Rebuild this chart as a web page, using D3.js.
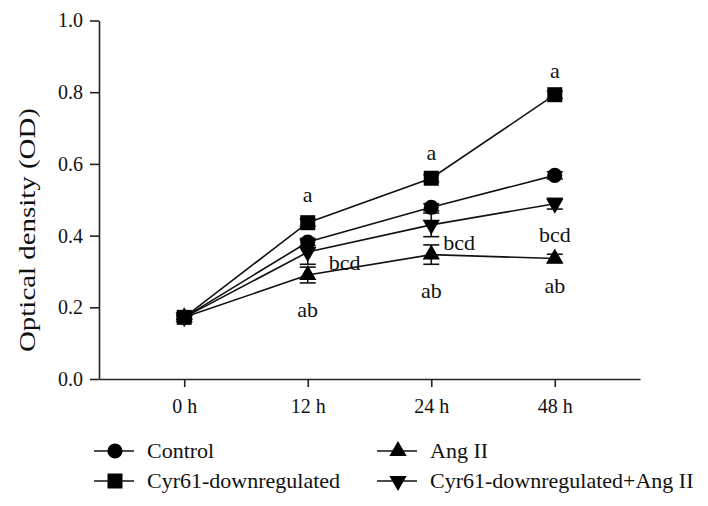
<!DOCTYPE html>
<html>
<head>
<meta charset="utf-8">
<script src="https://cdn.jsdelivr.net/npm/d3@7"></script>
<style>
  body { margin: 0; background: #fff; }
  svg text { font-family: "Liberation Serif", "DejaVu Serif", serif !important; fill: #111; }
</style>
</head>
<body>
<svg id="chart"></svg>
<script>
var width = 708,
    height = 506,
    serif = '"Liberation Serif", "DejaVu Serif", serif';

// data
var times = ['0 h', '12 h', '24 h', '48 h'];
var control = [0.172, 0.382, 0.479, 0.568];
var cyrDown = [0.172, 0.436, 0.560, 0.793];
var angII = [0.172, 0.290, 0.347, 0.336];
var cyrDownAng = [0.172, 0.354, 0.430, 0.489];

var controlSE = [0.005, 0.010, 0.010, 0.010];
var cyrDownSE = [0.005, 0.010, 0.010, 0.010];
var angIISE = [0.005, 0.022, 0.027, 0.012];
var cyrDownAngSE = [0.005, 0.034, 0.033, 0.015];

var yTicks = [0, 0.2, 0.4, 0.6, 0.8, 1.0];

// significance letters: time, text, OD level of baseline
var noteTime = ['12 h', '24 h', '48 h', '12 h', '24 h', '48 h', '12 h', '24 h', '48 h'];
var noteText = ['a', 'a', 'a', 'bcd', 'bcd', 'bcd', 'ab', 'ab', 'ab'];
var noteOD = [0.494, 0.611, 0.84, 0.304, 0.36, 0.382, 0.173, 0.226, 0.24];

var series = [
    { name: 'Control', values: control, se: controlSE, shape: 'circle' },
    { name: 'Cyr61-downregulated', values: cyrDown, se: cyrDownSE, shape: 'square' },
    { name: 'Ang II', values: angII, se: angIISE, shape: 'up' },
    { name: 'Cyr61-downregulated+Ang II', values: cyrDownAng, se: cyrDownAngSE, shape: 'down' }
];

var svg = d3.select('svg#chart')
    .attr('width', width)
    .attr('height', height);

var x = d3.scalePoint().domain(times).range([99, 640]).padding(0.69);
var y = d3.scaleLinear().domain([0, 1]).range([379, 20.5]);

function symbolFor(shape) {
    if (shape === 'circle') return d3.symbol(d3.symbolCircle, 180)();
    if (shape === 'square') return d3.symbol(d3.symbolSquare, 225)();
    return d3.symbol(d3.symbolTriangle, 130)();
}
function rotateFor(shape) {
    return shape === 'down' ? ' rotate(180)' : '';
}

// axes
var yAxis = svg.append('g')
    .attr('transform', 'translate(99,0)')
    .call(d3.axisLeft(y).tickValues(yTicks).tickFormat(d3.format('.1f')).tickSize(9).tickSizeOuter(0).tickPadding(7));
var xAxis = svg.append('g')
    .attr('transform', 'translate(0,379)')
    .call(d3.axisBottom(x).tickSize(8).tickSizeOuter(0).tickPadding(12));

[yAxis, xAxis].forEach(function (g) {
    g.attr('font-family', serif);
    g.selectAll('path, line').attr('stroke', '#222').attr('stroke-width', 1.6);
    g.selectAll('text').style('font-size', '20px').attr('fill', '#111');
});

svg.append('text')
    .attr('transform', 'translate(35,230) rotate(-90)')
    .attr('text-anchor', 'middle')
    .attr('textLength', 244)
    .attr('lengthAdjust', 'spacingAndGlyphs')
    .style('font-size', '23px')
    .text('Optical density (OD)');

// lines
var line = d3.line()
    .x(function (d, i) { return x(times[i]); })
    .y(function (d) { return y(d); });

series.forEach(function (s) {
    svg.append('path')
        .datum(s.values)
        .attr('d', line)
        .attr('fill', 'none')
        .attr('stroke', '#111')
        .attr('stroke-width', 1.6);
});

// error bars
series.forEach(function (s) {
    var g = svg.append('g');
    s.values.forEach(function (v, i) {
        var cx = x(times[i]);
        g.append('line')
            .attr('x1', cx).attr('x2', cx)
            .attr('y1', y(v - s.se[i])).attr('y2', y(v + s.se[i]));
        [v - s.se[i], v + s.se[i]].forEach(function (e) {
            g.append('line')
                .attr('x1', cx - 8).attr('x2', cx + 8)
                .attr('y1', y(e)).attr('y2', y(e));
        });
    });
    g.selectAll('line').attr('stroke', '#111').attr('stroke-width', 1.6);
});

// markers
series.forEach(function (s) {
    svg.append('g').selectAll('path')
        .data(s.values)
        .join('path')
        .attr('d', symbolFor(s.shape))
        .attr('transform', function (d, i) {
            return 'translate(' + x(times[i]) + ',' + y(d) + ')' + rotateFor(s.shape);
        })
        .attr('fill', '#000');
});

// significance letters
noteText.forEach(function (t, i) {
    var cx = x(noteTime[i]);
    var anchor = 'middle';
    if (t === 'bcd' && noteTime[i] === '12 h') { cx += 21; anchor = 'start'; }
    if (t === 'bcd' && noteTime[i] === '24 h') { cx += 12; anchor = 'start'; }
    svg.append('text')
        .attr('x', cx)
        .attr('y', y(noteOD[i]))
        .attr('text-anchor', anchor)
        .style('font-size', '22px')
        .text(t);
});

// legend
var legendX = [94, 377],
    legendY = [451, 481];
var legendOrder = [0, 2, 1, 3];
legendOrder.forEach(function (si, k) {
    var s = series[si];
    var lx = legendX[k % 2],
        ly = legendY[Math.floor(k / 2)];
    var g = svg.append('g').attr('transform', 'translate(' + lx + ',' + ly + ')');
    g.append('line')
        .attr('x1', 0).attr('x2', 40)
        .attr('y1', 0).attr('y2', 0)
        .attr('stroke', '#111').attr('stroke-width', 1.6);
    g.append('path')
        .attr('d', symbolFor(s.shape))
        .attr('transform', 'translate(21,0)' + rotateFor(s.shape))
        .attr('fill', '#000');
    g.append('text')
        .attr('x', 53)
        .attr('y', 7)
        .style('font-size', '22px')
        .text(s.name);
});
</script>
</body>
</html>
